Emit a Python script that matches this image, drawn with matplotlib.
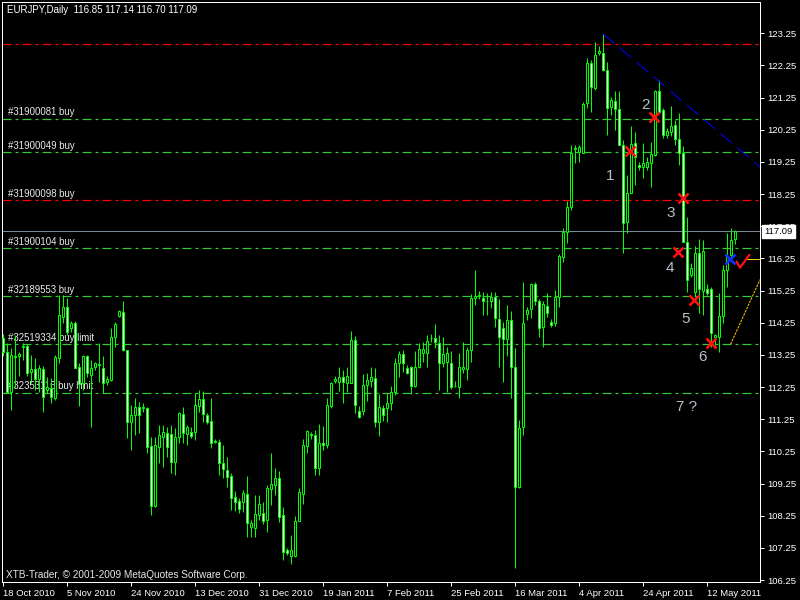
import numpy as np
import matplotlib
matplotlib.use("Agg")
import matplotlib.pyplot as plt

# ---------------- data (EURJPY daily) ----------------
opens = [113.76,113.35,112.11,113.17,113.22,113.50,113.53,112.71,112.81,112.50,
         112.81,112.16,112.21,111.90,113.14,114.44,114.75,114.08,114.23,112.86,
         112.39,113.22,112.63,112.86,112.97,112.83,112.40,112.47,113.82,114.47,
         114.57,113.40,111.17,111.38,111.64,111.61,111.61,110.43,108.55,110.40,
         110.71,110.83,110.78,109.93,110.69,111.41,110.79,110.86,110.86,111.66,
         111.88,111.38,111.19,110.55,110.55,109.88,109.67,109.48,108.82,108.71,
         108.69,108.93,107.91,107.88,108.27,108.35,108.12,109.08,109.21,109.41,
         108.27,107.18,107.00,107.00,108.10,108.94,110.43,110.78,110.76,109.72,
         110.52,110.45,111.66,112.45,112.42,112.55,112.39,112.39,113.71,111.51,
         111.52,112.31,112.45,112.52,111.17,111.59,111.59,111.76,112.09,112.99,
         113.27,112.83,112.86,112.29,112.86,113.32,113.32,113.78,113.77,113.63,
         112.99,113.02,113.01,112.27,112.24,112.81,112.80,113.40,115.01,115.08,
         115.03,114.94,114.91,115.04,114.36,114.08,113.73,114.34,112.86,109.13,
         111.00,114.52,114.67,115.44,114.94,114.11,114.77,114.26,114.25,115.06,
         116.30,117.08,117.86,119.66,119.57,119.54,121.07,122.32,121.54,122.65,
         122.65,122.11,120.95,121.15,120.89,119.78,117.39,118.27,119.83,119.15,
         119.10,119.10,119.23,119.47,121.46,120.86,120.09,120.19,120.39,119.95,
         119.54,116.77,115.74,115.22,116.43,115.25,115.29,115.29,113.80,113.82,
         114.46,115.89,116.36,116.85]
highs = [113.90,113.61,113.45,113.87,113.35,113.61,113.60,113.25,113.14,112.94,
         112.90,112.57,112.52,113.25,115.11,115.11,115.01,114.29,114.29,112.99,
         113.25,113.25,113.09,113.04,113.61,113.20,112.60,114.08,114.28,114.65,
         114.91,113.40,111.69,111.90,111.80,111.74,111.64,110.70,110.71,111.07,
         111.07,111.02,111.07,110.97,111.48,111.64,111.07,111.02,112.06,112.16,
         112.14,111.45,111.90,110.65,110.65,110.45,110.07,109.57,109.03,108.79,
         109.05,109.48,108.12,108.89,108.89,108.68,109.20,110.21,109.72,109.65,
         108.51,107.24,107.65,108.24,109.10,110.62,110.91,110.86,110.91,111.10,
         111.04,111.90,112.42,112.59,112.88,112.78,112.88,113.99,113.84,111.66,
         112.66,112.68,112.88,112.83,112.03,111.70,112.05,112.28,113.14,113.38,
         113.40,112.94,112.89,113.38,113.61,113.66,113.87,113.90,114.20,113.87,
         113.82,113.51,113.38,112.45,113.30,113.66,113.51,115.13,115.89,115.24,
         115.20,115.17,115.20,115.20,114.98,114.28,114.80,114.62,113.45,111.23,
         115.53,114.73,115.48,115.53,114.98,114.94,115.17,114.36,115.27,116.38,
         117.20,118.02,119.78,119.78,119.78,121.12,122.47,122.42,122.99,122.84,
         123.23,122.37,121.28,121.44,121.44,119.93,118.84,120.35,120.19,119.26,
         119.83,119.40,119.88,121.49,121.80,120.92,120.30,120.99,120.55,120.76,
         119.73,117.55,116.10,116.62,116.84,116.82,115.45,115.37,113.90,115.16,
         116.05,117.03,117.18,117.14]
lows = [113.20,112.05,111.54,112.26,112.60,113.09,112.58,112.37,112.16,112.11,
        111.48,112.05,111.74,111.85,112.99,114.23,113.87,113.97,112.83,111.66,
        112.16,112.57,111.02,112.78,112.42,112.05,112.30,112.45,113.51,114.44,
        113.36,110.66,110.29,110.76,110.81,111.49,110.19,108.27,108.52,109.88,
        109.78,110.08,109.57,109.51,110.50,110.50,110.45,110.66,110.60,111.48,
        111.17,111.10,110.35,110.50,109.52,109.41,109.15,108.43,108.41,108.33,
        108.38,107.58,107.58,107.58,108.12,107.99,107.75,108.58,108.89,108.07,
        106.87,107.03,106.75,106.98,108.09,108.61,110.19,110.65,109.51,109.51,
        110.29,110.35,111.59,112.39,112.14,111.76,112.11,112.37,111.45,111.28,
        111.38,111.83,112.26,111.02,110.73,111.20,111.17,111.54,112.00,112.57,
        112.73,112.66,112.03,112.26,112.83,113.04,112.88,113.66,113.45,112.16,
        112.88,112.11,112.18,112.24,111.90,112.70,112.47,113.04,114.80,114.98,
        114.49,114.49,114.70,114.13,112.88,112.42,113.20,111.90,106.61,109.10,
        110.76,114.34,114.39,114.80,113.82,113.51,114.42,114.13,114.15,114.75,
        116.15,116.72,117.76,119.21,119.26,119.54,120.92,120.81,121.49,122.58,
        122.06,120.09,120.71,120.24,119.78,116.41,117.03,118.27,118.53,119.00,
        118.74,119.00,118.48,119.42,120.76,119.98,120.00,120.04,119.78,119.15,
        116.77,115.22,115.68,115.06,114.54,114.49,115.10,113.51,113.56,113.35,
        114.23,115.37,116.30,116.70]
closes = [113.35,112.11,113.25,113.23,113.28,113.52,112.70,112.81,112.50,112.83,
          111.95,112.26,111.93,113.18,114.49,114.75,113.97,114.23,112.85,112.35,
          113.22,112.68,112.83,112.99,112.95,112.37,112.50,113.82,114.21,114.60,
          113.40,111.17,111.38,111.64,111.38,111.62,110.40,108.55,110.45,110.76,
          110.86,110.40,109.93,110.71,111.43,110.81,111.02,110.73,111.69,111.88,
          111.40,111.17,110.52,110.58,109.88,109.69,109.46,108.79,108.69,108.45,
          108.95,108.03,108.03,108.30,108.61,108.10,109.10,109.24,109.41,108.22,
          107.13,107.08,107.20,108.08,108.99,110.45,110.88,110.76,109.72,110.52,
          110.45,111.68,112.37,112.50,112.55,112.42,112.59,113.71,111.69,111.33,
          112.31,112.47,112.55,111.17,111.64,111.38,111.74,112.11,112.99,113.27,
          113.01,112.68,112.29,112.88,113.42,113.43,113.68,113.79,113.66,112.99,
          113.27,113.30,112.24,112.28,112.86,112.88,113.40,115.01,115.08,115.11,
          114.94,114.93,115.06,114.39,113.80,113.73,114.34,112.86,109.13,110.97,
          114.23,114.65,115.44,114.94,114.08,114.83,114.54,114.18,115.06,116.33,
          117.08,117.86,119.54,119.67,119.70,121.05,122.32,121.57,122.58,122.71,
          122.11,120.92,121.18,120.89,119.78,117.34,118.27,119.81,119.41,119.10,
          119.23,119.26,119.50,121.44,120.81,120.09,120.21,120.37,119.95,119.52,
          116.77,115.58,115.96,116.43,115.30,116.49,115.17,113.92,113.87,114.46,
          115.89,116.30,116.82,117.09]

date_labels = ["18 Oct 2010", "5 Nov 2010", "24 Nov 2010", "13 Dec 2010",
               "31 Dec 2010", "19 Jan 2011", "7 Feb 2011", "25 Feb 2011",
               "16 Mar 2011", "4 Apr 2011", "24 Apr 2011", "12 May 2011"]
bars_per_label = 16
price_ticks = [106.25 + k for k in range(18)]

order_prices = [122.92, 120.59, 119.55, 118.06, 116.56, 115.07, 113.58, 112.07]
order_labels = ["", "#31900081 buy", "#31900049 buy", "#31900098 buy",
                "#31900104 buy", "#32189553 buy", "#32519334 buy limit",
                "#32353116 buy limit"]
order_colors = ["#ff0000", "#32cd32", "#32cd32", "#ff0000",
                "#32cd32", "#32cd32", "#32cd32", "#32cd32"]
bid_price = 117.09

cross_idx = [156.75, 162.8, 169.9, 168.8, 172.8, 176.9]
cross_price = [119.60, 120.63, 118.14, 116.46, 114.96, 113.61]
blue_cross = (181.75, 116.22)
wave_text = ["1", "2", "3", "4", "5", "6", "7 ?"]
wave_idx = [151.9, 160.75, 166.9, 166.75, 170.75, 174.8, 170.9]
wave_price = [118.82, 121.02, 117.67, 115.94, 114.37, 113.19, 111.63]
trend_idx = [150, 189.25]
trend_price = [123.23, 119.09]
yellow_idx = [181.9, 189.25]
yellow_price = [113.58, 115.59]
check_idx = [183.4, 184.25, 186.6]
check_price = [116.15, 115.96, 116.36]
yellow_h_idx = [185.9, 189.25]
yellow_h_price = 116.22

# ---------------- drawing ----------------
PX = 0.72  # one pixel in points at 100 dpi
FONT = ["Liberation Sans", "DejaVu Sans"]
plt.rcParams["font.family"] = FONT
plt.rcParams["lines.scale_dashes"] = False

fig = plt.figure(figsize=(8, 6), dpi=100, facecolor="black")
ax = fig.add_axes([2/800, 18/600, 758/800, 580/600], facecolor="black")

n = len(closes)
idx = np.arange(n)
o = np.array(opens); h = np.array(highs); l = np.array(lows); c = np.array(closes)

XMIN, XMAX = -0.25, 189.25
ax.set_xlim(XMIN, XMAX)
ax.set_ylim(106.19, 124.22)

# order lines
for p, lab, col in zip(order_prices, order_labels, order_colors):
    ax.axhline(p, color=col, lw=1.2*PX, dashes=(9*PX, 4*PX, 3*PX, 4*PX), zorder=1)
    if lab:
        ax.annotate(lab, xy=((8-2)/758, p), xycoords=("axes fraction", "data"),
                    xytext=(0, 1.5*PX), textcoords="offset points",
                    color="#ececec", fontsize=6.9, ha="left", va="bottom", zorder=1.5)

# bid line
ax.axhline(bid_price, color="#778899", lw=PX, zorder=1)

# candles
ax.vlines(idx, l, h, color="#00ff00", lw=PX, zorder=3)
body_bottom = np.minimum(o, c)
body_h = np.abs(c - o)
face = ["white" if cc < oo else "black" for oo, cc in zip(o, c)]
ax.bar(idx, body_h, bottom=body_bottom, width=0.5, color=face,
       edgecolor="#00ff00", linewidth=PX, zorder=4)

# trend line (blue, dashed)
ax.plot(trend_idx, trend_price, color="#0000ff", lw=PX, dashes=(15*PX, 7*PX), zorder=5)

# yellow lines
ax.plot(yellow_idx, yellow_price, color="#ffc800", lw=PX, dashes=(2.5*PX, 1*PX), zorder=5)
ax.plot(yellow_h_idx, [yellow_h_price]*2, color="#ffc800", lw=PX, zorder=5)

# markers
ax.plot(cross_idx, cross_price, ls="none", marker="x", ms=6.5, mew=1.9,
        color="#ff1010", zorder=6)
ax.plot([blue_cross[0]], [blue_cross[1]], ls="none", marker="x", ms=6.5, mew=1.9,
        color="#1030ff", zorder=6)
ax.plot(check_idx, check_price, color="#ff1010", lw=1.6, zorder=6,
        solid_capstyle="round")

for t, xi, yp in zip(wave_text, wave_idx, wave_price):
    ax.text(xi, yp, t, color="#b8c0cc", fontsize=11, ha="center", va="center", zorder=6)

# axes styling
for s in ax.spines.values():
    s.set_color("white")
    s.set_linewidth(PX)
ax.yaxis.tick_right()
ax.set_yticks(price_ticks)
ax.set_yticklabels([f"{v:.2f}" for v in price_ticks])
ax.set_xticks([k*bars_per_label for k in range(len(date_labels))])
ax.set_xticklabels(date_labels)
for lab in ax.get_xticklabels():
    lab.set_horizontalalignment("left")
ax.tick_params(colors="white", labelsize=6.8, length=3, width=PX, pad=2)
ax.tick_params(axis="y", pad=2.5)

# bid price box on the scale
ax.annotate(f"{bid_price:.2f}", xy=(1.0, bid_price), xycoords=("axes fraction", "data"),
            xytext=(4.5*PX, 0), textcoords="offset points", ha="left", va="center",
            color="black", fontsize=6.8, zorder=10, annotation_clip=False,
            bbox=dict(boxstyle="square,pad=0.25", fc="white", ec="white"))

fig.text(7/800, 1 - 10/600, "EURJPY,Daily  116.85 117.14 116.70 117.09",
         color="white", fontsize=7.0, ha="left", va="center")
fig.text(6/800, 1 - 575/600, "XTB-Trader, © 2001-2009 MetaQuotes Software Corp.",
         color="#e6e6e6", fontsize=7.2, ha="left", va="center")

fig.savefig("out.png", dpi=100, facecolor="black")
